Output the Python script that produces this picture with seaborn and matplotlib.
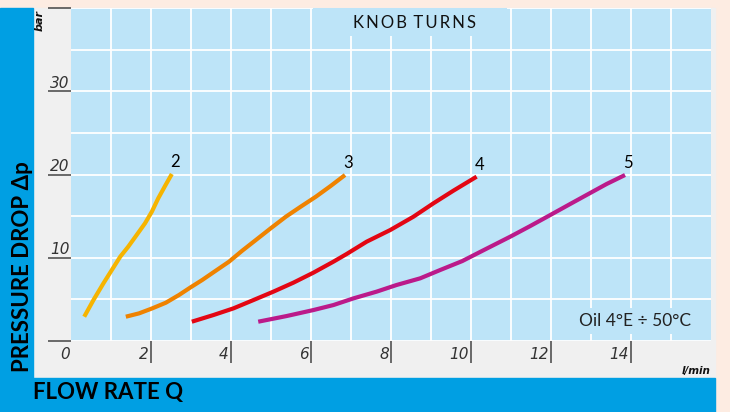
import matplotlib
matplotlib.use("Agg")
import matplotlib.pyplot as plt
import seaborn as sns
import pandas as pd

# knob turns curves (flow l/min, pressure drop bar)
turns = ["2", "3", "4", "5"]
q_2 = [0.33, 0.56, 0.81, 1.02, 1.23, 1.43, 1.64, 1.85, 2.02, 2.18, 2.35, 2.52]
p_2 = [2.92, 4.92, 6.93, 8.53, 10.13, 11.33, 12.73, 14.14, 15.53, 17.14, 18.62, 20.06]
q_3 = [1.37, 1.70, 2.03, 2.37, 2.70, 2.99, 3.28, 3.62, 3.95, 4.28, 4.62, 4.99, 5.37,
       5.74, 6.12, 6.49, 6.85]
p_3 = [2.92, 3.32, 3.92, 4.60, 5.53, 6.45, 7.33, 8.45, 9.53, 10.85, 12.13, 13.53, 14.93,
       16.13, 17.33, 18.62, 19.94]
q_4 = [3.02, 3.56, 4.06, 4.56, 5.06, 5.56, 6.06, 6.56, 6.89, 7.39, 7.98, 8.56, 9.06,
       9.56, 10.14]
p_4 = [2.32, 3.12, 3.92, 4.92, 5.93, 7.01, 8.21, 9.53, 10.45, 11.93, 13.33, 14.93, 16.54,
       18.06, 19.74]
q_5 = [4.68, 5.39, 6.06, 6.56, 7.06, 7.64, 8.14, 8.73, 9.23, 9.78, 10.31, 10.98, 11.48,
       11.98, 12.48, 12.98, 13.39, 13.85]
p_5 = [2.32, 3.0, 3.72, 4.32, 5.12, 5.93, 6.73, 7.53, 8.53, 9.6, 10.9, 12.53, 13.81,
       15.13, 16.46, 17.78, 18.86, 19.94]

x_ticks = [2, 4, 6, 8, 10, 12, 14]
y_ticks = [0, 10, 20, 30, 40]
y_labels = ["0", "10", "20", "30", ""]

colors = {"2": "#f6b400", "3": "#ef8200", "4": "#e30613", "5": "#bb1a8a"}
plot_bg = "#bde4f8"

frames = []
for t, q, p in zip(turns, [q_2, q_3, q_4, q_5], [p_2, p_3, p_4, p_5]):
    frames.append(pd.DataFrame({"Q": q, "dp": p, "turns": t}))
df = pd.concat(frames, ignore_index=True)

sns.set_style("white")
plt.rcParams["font.family"] = ["Lato", "DejaVu Sans"]

fig = plt.figure(figsize=(7.3, 4.12), dpi=100)
fig.patch.set_facecolor("#fdece2")

# background bands
fig.patches.append(plt.Rectangle((0, 0), 0.9795, 0.9806, transform=fig.transFigure,
                                 color="#f0f0f0", zorder=-3))
fig.patches.append(plt.Rectangle((0, 0), 0.0452, 0.9806, transform=fig.transFigure,
                                 color="#009fe3", zorder=-2))
fig.patches.append(plt.Rectangle((0, 0), 0.9795, 0.0825, transform=fig.transFigure,
                                 color="#009fe3", zorder=-2))

ax = fig.add_axes([0.0973, 0.1723, 0.8767, 0.8083])
ax.set_facecolor(plot_bg)

sns.lineplot(data=df, x="Q", y="dp", hue="turns", palette=colors, sort=False,
             estimator=None, units="turns", legend=False, lw=3, ax=ax)
for line in ax.lines:
    line.set_solid_capstyle("butt")
    line.set_solid_joinstyle("round")

ax.set_xlim(0, 16)
ax.set_ylim(0, 40)
ax.set_xticks(range(1, 16), minor=True)
ax.set_yticks(range(5, 40, 5), minor=True)
ax.set_xticks(x_ticks)
ax.set_yticks(y_ticks)
ax.grid(True, which="both", color="white", lw=1.3)
ax.set_axisbelow(True)
ax.tick_params(which="minor", length=0, bottom=False, left=False)
ax.tick_params(axis="x", which="major", bottom=True, direction="out", length=16,
               width=1.1, color="#444444", labelbottom=False)
ax.tick_params(axis="y", which="major", left=True, direction="out", length=16.5,
               width=1.1, color="#444444", labelleft=False)
for s in ax.spines.values():
    s.set_visible(False)
ax.set_xlabel("")
ax.set_ylabel("")

tick_font = dict(family="DejaVu Sans", style="oblique", fontsize=11, color="#333333")
for v, lab in zip(y_ticks, y_labels):
    if v == 0:
        ax.annotate(lab, (0, v), xycoords=("axes fraction", "data"), xytext=(-1, -4),
                    textcoords="offset points", ha="right", va="top",
                    annotation_clip=False, **tick_font)
    elif lab:
        ax.annotate(lab, (0, v), xycoords=("axes fraction", "data"), xytext=(-1, 0.5),
                    textcoords="offset points", ha="right", va="bottom",
                    annotation_clip=False, **tick_font)
for v in x_ticks:
    ax.annotate(str(v), (v, 0), xycoords=("data", "axes fraction"), xytext=(-1.5, -4),
                textcoords="offset points", ha="right", va="top",
                annotation_clip=False, **tick_font)

# curve labels
for t, q, p in zip(turns, [q_2, q_3, q_4, q_5], [p_2, p_3, p_4, p_5]):
    ax.annotate(t, (q[-1], p[-1]), xytext=(2, 3), textcoords="offset points",
                ha="center", va="bottom", fontsize=12, color="black")

# title box hides the grid lines behind it
ax.add_patch(plt.Rectangle((6.05, 36.6), 4.85, 3.4, fc=plot_bg, ec="none", zorder=1))
ax.text(8.58, 38.2, "K\u2009N\u2009O\u2009B\u2009 T\u2009U\u2009R\u2009N\u2009S",
        ha="center", va="center", fontsize=12, color="#111111", zorder=2)
ax.text(15.5, 2.4, "Oil 4°E ÷ 50°C", ha="right", va="center", fontsize=12.5,
        color="#222222", zorder=2,
        bbox=dict(boxstyle="square,pad=0.3", fc=plot_bg, ec="none"))

fig.text(0.973, 0.088, "l/min", ha="right", va="bottom", fontsize=7.5, family="DejaVu Sans",
         style="oblique", weight="bold", color="#111111")
fig.text(0.055, 0.95, "bar", rotation=90, ha="center", va="center", fontsize=8,
         family="DejaVu Sans", style="oblique", weight="bold", color="#111111")
fig.text(0.031, 0.352, "PRESSURE DROP Δp", rotation=90, ha="center", va="center",
         fontsize=16, weight="bold", color="black")
fig.text(0.045, 0.048, "FLOW RATE Q", ha="left", va="center",
         fontsize=16, weight="bold", color="black")

fig.savefig("out.png", dpi=100, facecolor=fig.get_facecolor())
